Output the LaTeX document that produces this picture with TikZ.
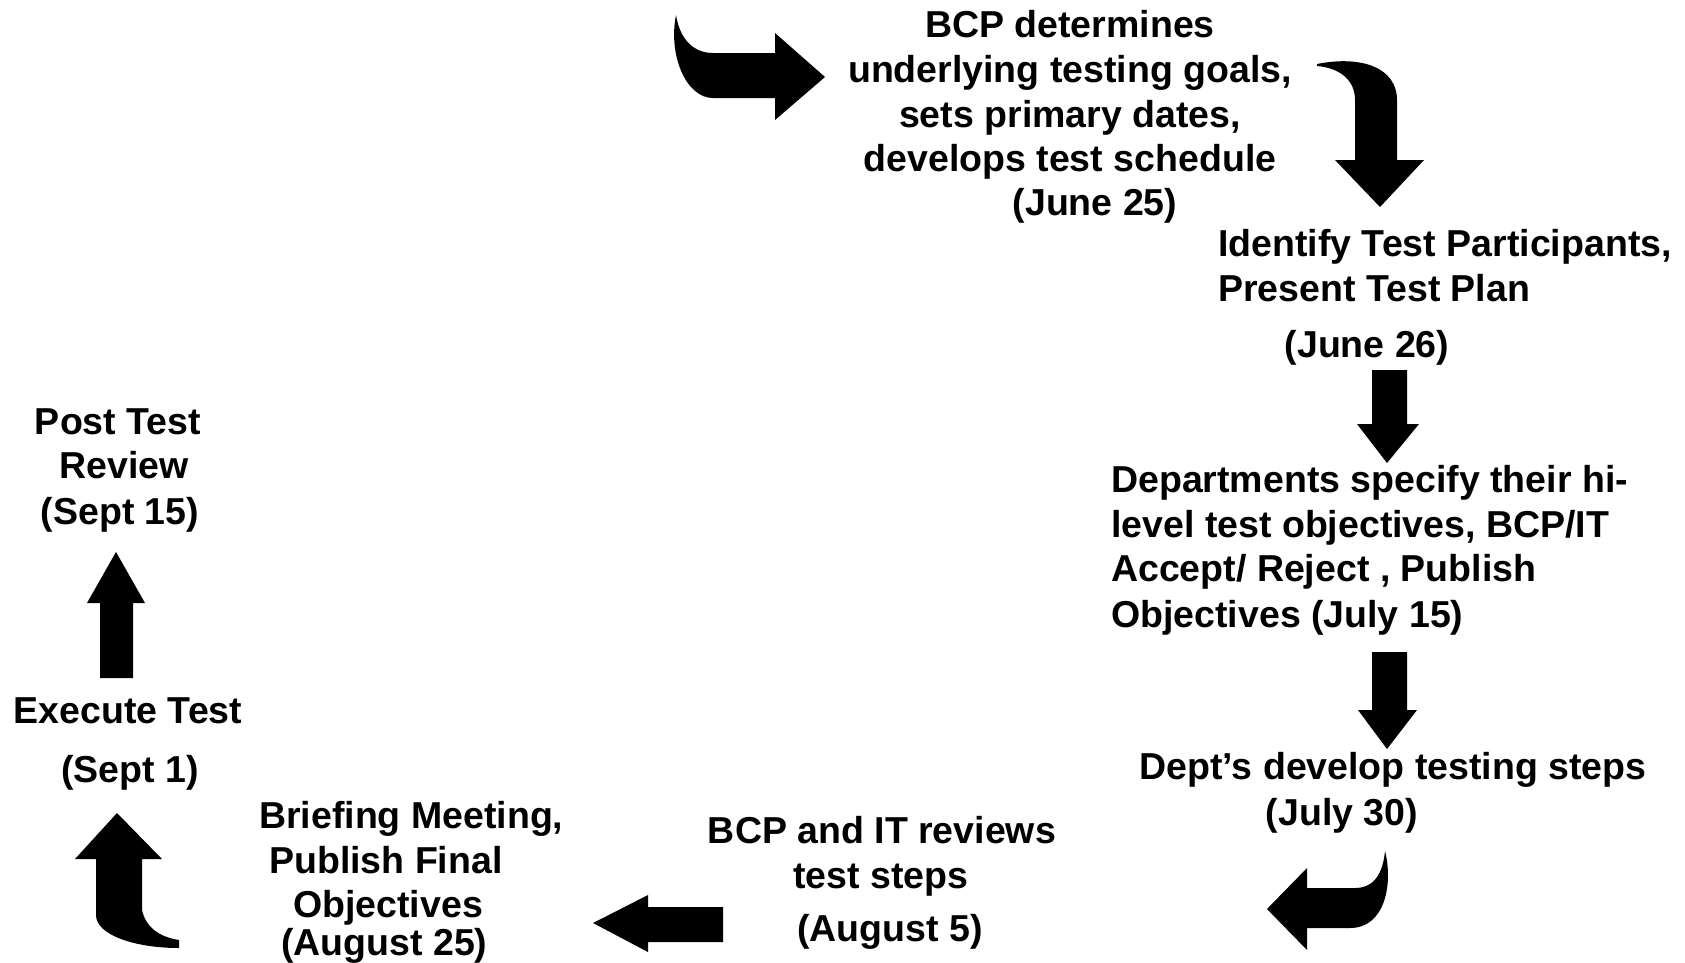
\documentclass[tikz,border=0pt]{standalone}
\usepackage{fontspec}
\setmainfont{Liberation Sans}
\begin{document}
\begin{tikzpicture}[x=1pt,y=-1pt,
  lbl/.style={font=\bfseries\fontsize{37.5}{45}\selectfont, inner sep=0pt, anchor=base},
  lblw/.style={lbl, anchor=base west},
  blockarrow/.style={fill=black, draw=none}]
\useasboundingbox (0,0) rectangle (1685,962);

% --- step texts ---
\node[lbl] (s1a) at (1070,37)  {BCP determines};
\node[lbl] (s1b) at (1070,82)  {underlying testing goals,};
\node[lbl] (s1c) at (1070,127) {sets primary dates,};
\node[lbl] (s1d) at (1070,171) {develops test schedule};
\node[lbl] (s1e) at (1095,215) {(June 25)};

\node[lblw] (s2a) at (1218,256) {Identify Test Participants,};
\node[lblw] (s2b) at (1218,301) {Present Test Plan};
\node[lbl]  (s2c) at (1367,357) {(June 26)};

\node[lblw] (s3a) at (1111,492) {Departments specify their hi-};
\node[lblw] (s3b) at (1111,537) {level test objectives, BCP/IT};
\node[lblw] (s3c) at (1111,581) {Accept/ Reject , Publish};
\node[lblw] (s3d) at (1111,627) {Objectives (July 15)};

\node[lbl] (s4a) at (1393,779) {Dept’s develop testing steps};
\node[lbl] (s4b) at (1342,825) {(July 30)};

\node[lbl] (s5a) at (882,843) {BCP and IT reviews};
\node[lbl] (s5b) at (881,888) {test steps};
\node[lbl] (s5c) at (890,941) {(August 5)};

\node[lblw] (s6a) at (259,828) {Briefing Meeting,};
\node[lblw] (s6b) at (269,873) {Publish Final};
\node[lblw] (s6c) at (293,917) {Objectives};
\node[lblw] (s6d) at (281,955) {(August 25)};

\node[lbl] (s7a) at (128,723) {Execute Test};
\node[lbl] (s7b) at (130,782) {(Sept 1)};

\node[lbl] (s8a) at (118,434) {Post Test};
\node[lbl] (s8b) at (124,478) {Review};
\node[lbl] (s8c) at (120,524) {(Sept 15)};

% --- block arrows ---
% curved arrow into the first step
\fill[blockarrow] (676,15) .. controls (668,55) and (686,98) .. (713,98)
  -- (775,98) -- (775,120) -- (825,77) -- (775,33) -- (775,53) -- (713,53)
  .. controls (694,53) and (680,40) .. (676,15) -- cycle;
% curved arrow turning down towards step 2
\fill[blockarrow] (1317,64) .. controls (1362,55) and (1397,68) .. (1397,100)
  -- (1397,160) -- (1424,160) -- (1380,207) -- (1335,160) -- (1355,160) -- (1355,100)
  .. controls (1355,80) and (1340,68) .. (1317,66) -- cycle;
% straight down arrows
\fill[blockarrow] (1372,370) -- (1407,370) -- (1407,424) -- (1419,424)
  -- (1387,463) -- (1357,424) -- (1372,424) -- cycle;
\fill[blockarrow] (1372,652) -- (1407,652) -- (1407,710) -- (1417,710)
  -- (1387,749) -- (1358,710) -- (1372,710) -- cycle;
% curved arrow turning left below step 4
\fill[blockarrow] (1385,851) .. controls (1393,882) and (1386,928) .. (1350,928)
  -- (1307,928) -- (1307,950) -- (1267,909) -- (1307,868) -- (1307,888) -- (1355,888)
  .. controls (1375,888) and (1383,872) .. (1385,851) -- cycle;
% straight left arrow
\fill[blockarrow] (723,907) -- (723,942) -- (648,942) -- (648,952)
  -- (593,923) -- (648,895) -- (648,907) -- cycle;
% curved arrow turning up at the lower left
\fill[blockarrow] (117,813) -- (162,859) -- (142,859) -- (142,910)
  .. controls (146,928) and (160,937) .. (179,940) -- (179,948)
  .. controls (135,948) and (96,935) .. (96,915) -- (96,859) -- (75,859) -- cycle;
% straight up arrow
\fill[blockarrow] (100,678) -- (133,678) -- (133,603) -- (145,603)
  -- (116,552) -- (87,603) -- (100,603) -- cycle;
\end{tikzpicture}
\end{document}
